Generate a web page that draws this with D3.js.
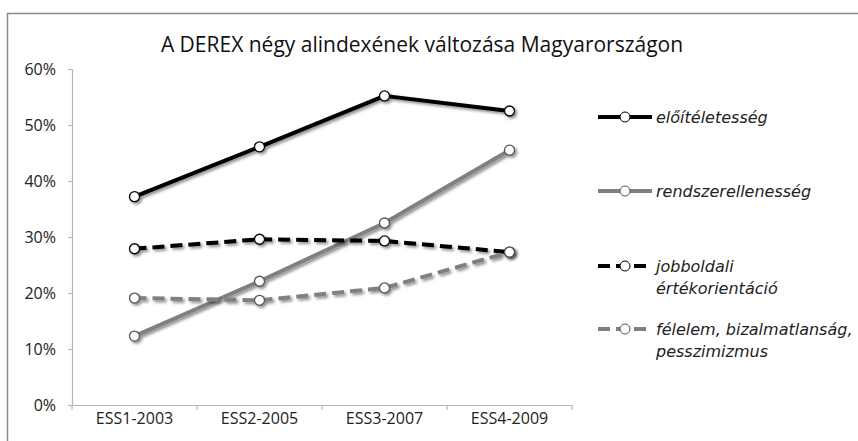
<!DOCTYPE html>
<html>
<head>
<meta charset="utf-8">
<script src="https://cdn.jsdelivr.net/npm/d3@7"></script>
<style>
  body { margin: 0; background: #fff; }
</style>
</head>
<body>
<div id="chart"></div>
<script>
const categories = ['ESS1-2003', 'ESS2-2005', 'ESS3-2007', 'ESS4-2009'];
const eloiteletesseg = [0.372, 0.461, 0.552, 0.525];
const rendszerellenesseg = [0.123, 0.221, 0.325, 0.455];
const jobboldali = [0.279, 0.296, 0.293, 0.273];
const felelem = [0.191, 0.187, 0.209, 0.273];
const yTicks = [0, 0.1, 0.2, 0.3, 0.4, 0.5, 0.6];
const seriesNames = [
  ['előítéletesség'],
  ['rendszerellenesség'],
  ['jobboldali', 'értékorientáció'],
  ['félelem, bizalmatlanság,', 'pesszimizmus']
];

const series = [
  { name: seriesNames[0], values: eloiteletesseg, color: '#000', dash: null },
  { name: seriesNames[1], values: rendszerellenesseg, color: '#808080', dash: null },
  { name: seriesNames[2], values: jobboldali, color: '#000', dash: '12,6' },
  { name: seriesNames[3], values: felelem, color: '#808080', dash: '12,6' }
];

const totalWidth = 858;
const totalHeight = 441;
const margin = { top: 69, right: 286, bottom: 36, left: 72 };
const width = totalWidth - margin.left - margin.right;
const height = totalHeight - margin.top - margin.bottom;

const svg = d3.select('#chart')
  .append('svg')
  .attr('width', totalWidth)
  .attr('height', totalHeight);

// drop shadow like the office chart
const filter = svg.append('defs').append('filter')
  .attr('id', 'shadow')
  .attr('x', '-20%').attr('y', '-50%')
  .attr('width', '140%').attr('height', '200%');
filter.append('feDropShadow')
  .attr('dx', 2).attr('dy', 2)
  .attr('stdDeviation', 1.5)
  .attr('flood-color', '#000')
  .attr('flood-opacity', 0.45);

// outer frame
svg.append('rect')
  .attr('x', 7.5).attr('y', 13.5)
  .attr('width', totalWidth)
  .attr('height', totalHeight)
  .attr('fill', 'none')
  .attr('stroke', '#8a8a8a')
  .attr('stroke-width', 1.5);

svg.append('text')
  .attr('x', 422)
  .attr('y', 52)
  .attr('text-anchor', 'middle')
  .style('font-family', '"Open Sans", sans-serif')
  .style('font-size', '21px')
  .style('fill', '#111')
  .text('A DEREX négy alindexének változása Magyarországon');

const x = d3.scaleBand().domain(categories).range([0, width]);
const y = d3.scaleLinear().domain([0, 0.6]).range([height, 0]);

const g = svg.append('g')
  .attr('transform', 'translate(' + margin.left + ',' + margin.top + ')');

// y axis
g.append('g')
  .attr('class', 'axis axis-y')
  .call(d3.axisLeft(y).tickValues(yTicks).tickFormat(d3.format('.0%')).tickSize(4).tickPadding(12));

// x axis with ticks on category boundaries
const xAxis = g.append('g')
  .attr('class', 'axis axis-x')
  .attr('transform', 'translate(0,' + height + ')')
  .call(d3.axisBottom(x).tickSize(0).tickPadding(8));

xAxis.selectAll('.boundary')
  .data(categories.concat(['end']))
  .enter()
  .append('line')
  .attr('class', 'boundary')
  .attr('x1', (d, i) => i * x.bandwidth())
  .attr('x2', (d, i) => i * x.bandwidth())
  .attr('y1', 0)
  .attr('y2', 5);

svg.selectAll('.axis path, .axis line')
  .attr('stroke', '#b8b8b8')
  .attr('stroke-width', 1.2);
svg.selectAll('.axis text')
  .style('font-family', '"Open Sans", sans-serif')
  .style('font-size', '16px')
  .style('fill', '#222');

const line = d3.line()
  .x((d, i) => x(categories[i]) + x.bandwidth() / 2)
  .y((d) => y(d));

series.forEach((s) => {
  const sg = g.append('g').attr('filter', 'url(#shadow)');
  sg.append('path')
    .datum(s.values)
    .attr('d', line)
    .attr('fill', 'none')
    .attr('stroke', s.color)
    .attr('stroke-width', 4)
    .attr('stroke-dasharray', s.dash)
    .attr('stroke-linejoin', 'round');

  sg.selectAll('.marker')
    .data(s.values)
    .enter()
    .append('circle')
    .attr('class', 'marker')
    .attr('cx', (d, i) => x(categories[i]) + x.bandwidth() / 2)
    .attr('cy', (d) => y(d))
    .attr('r', 5)
    .attr('fill', '#fff')
    .attr('stroke', s.color === '#000' ? '#000' : '#555')
    .attr('stroke-width', 1.3);
});

// legend
const legendY = [117, 191, 266, 329];
const legend = svg.append('g');
series.forEach((s, i) => {
  const lg = legend.append('g')
    .attr('transform', 'translate(598,' + legendY[i] + ')');
  lg.append('line')
    .attr('x1', 0).attr('x2', 54)
    .attr('y1', 0).attr('y2', 0)
    .attr('stroke', s.color)
    .attr('stroke-width', 4)
    .attr('stroke-dasharray', s.dash);
  lg.append('circle')
    .attr('cx', 27).attr('cy', 0)
    .attr('r', 5)
    .attr('fill', '#fff')
    .attr('stroke', s.color === '#000' ? '#000' : '#555')
    .attr('stroke-width', 1);
  s.name.forEach((t, k) => {
    lg.append('text')
      .attr('x', 58)
      .attr('y', k * 22 + 6)
      .style('font-family', '"DejaVu Sans", sans-serif')
      .style('font-style', 'italic')
      .style('font-size', '16px')
      .style('fill', '#222')
      .text(t);
  });
});
</script>
</body>
</html>
